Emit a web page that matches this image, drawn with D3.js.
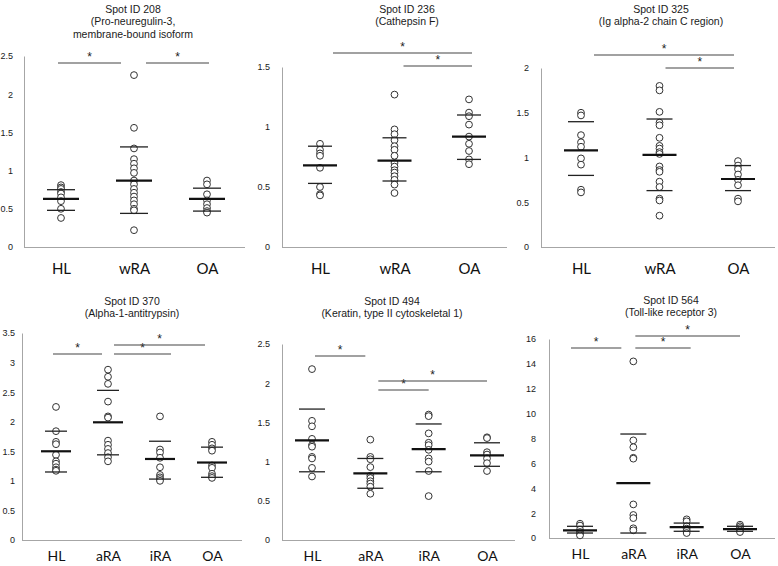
<!DOCTYPE html>
<html><head><meta charset="utf-8">
<script src="https://cdn.jsdelivr.net/npm/d3@7"></script>
<style>body{margin:0;background:#fff} svg{display:block}</style>
</head><body>
<svg id="chart" width="778" height="566"></svg>
<script>
// ---------------- DATA ----------------
const cats3 = ["HL", "wRA", "OA"];
const cats4 = ["HL", "aRA", "iRA", "OA"];

// Spot ID 208
const title208 = ["Spot ID 208", "(Pro-neuregulin-3,", "membrane-bound isoform"];
const ticks208 = [0, 0.5, 1, 1.5, 2, 2.5];
const values208 = [
  [0.81, 0.78, 0.76, 0.72, 0.70, 0.65, 0.60, 0.50, 0.38],
  [2.25, 1.56, 1.29, 1.15, 1.09, 1.03, 0.97, 0.87, 0.82, 0.76, 0.71, 0.66, 0.61, 0.56, 0.50, 0.48, 0.22],
  [0.87, 0.82, 0.69, 0.61, 0.56, 0.51, 0.47, 0.45]
];
const mean208 = [0.63, 0.87, 0.63];
const sdHi208 = [0.75, 1.31, 0.77];
const sdLo208 = [0.48, 0.44, 0.47];
const sig208 = [[0, 1], [1, 2]];

// Spot ID 236
const title236 = ["Spot ID 236", "(Cathepsin F)"];
const ticks236 = [0, 0.5, 1, 1.5];
const values236 = [
  [0.86, 0.81, 0.78, 0.76, 0.66, 0.50, 0.44, 0.43],
  [1.27, 0.98, 0.94, 0.89, 0.84, 0.81, 0.76, 0.70, 0.67, 0.64, 0.62, 0.59, 0.56, 0.52, 0.45],
  [1.23, 1.12, 1.09, 1.02, 0.92, 0.86, 0.80, 0.73, 0.69]
];
const mean236 = [0.68, 0.72, 0.92];
const sdHi236 = [0.84, 0.91, 1.10];
const sdLo236 = [0.53, 0.55, 0.73];
const sig236 = [[0, 2], [1, 2]];

// Spot ID 325
const title325 = ["Spot ID 325", "(Ig alpha-2 chain C region)"];
const ticks325 = [0, 0.5, 1, 1.5, 2];
const values325 = [
  [1.50, 1.47, 1.25, 1.17, 1.12, 0.99, 0.92, 0.64, 0.61],
  [1.80, 1.75, 1.51, 1.39, 1.36, 1.22, 1.13, 1.10, 1.06, 1.04, 0.90, 0.86, 0.84, 0.73, 0.67, 0.54, 0.52, 0.35],
  [0.96, 0.91, 0.87, 0.81, 0.75, 0.69, 0.54, 0.51]
];
const mean325 = [1.08, 1.03, 0.76];
const sdHi325 = [1.40, 1.43, 0.91];
const sdLo325 = [0.80, 0.63, 0.63];
const sig325 = [[0, 2], [1, 2]];

// Spot ID 370
const title370 = ["Spot ID 370", "(Alpha-1-antitrypsin)"];
const ticks370 = [0, 0.5, 1, 1.5, 2, 2.5, 3, 3.5];
const values370 = [
  [2.25, 1.84, 1.66, 1.62, 1.44, 1.33, 1.29, 1.23, 1.19, 1.17],
  [2.88, 2.76, 2.64, 2.34, 2.09, 2.07, 1.68, 1.61, 1.54, 1.47, 1.40, 1.33],
  [2.09, 1.53, 1.48, 1.39, 1.23, 1.10, 1.06, 1.03, 1.00],
  [1.66, 1.61, 1.55, 1.51, 1.26, 1.22, 1.12, 1.08, 1.05]
];
const mean370 = [1.50, 1.99, 1.37, 1.31];
const sdHi370 = [1.84, 2.53, 1.67, 1.57];
const sdLo370 = [1.15, 1.44, 1.03, 1.06];
const sig370 = [[0, 1], [1, 2], [1, 3]];

// Spot ID 494
const title494 = ["Spot ID 494", "(Keratin, type II  cytoskeletal 1)"];
const ticks494 = [0, 0.5, 1, 1.5, 2, 2.5];
const values494 = [
  [2.18, 1.52, 1.45, 1.29, 1.21, 1.19, 1.06, 1.04, 0.92, 0.81],
  [1.28, 1.06, 1.03, 0.93, 0.82, 0.79, 0.75, 0.72, 0.68, 0.59],
  [1.60, 1.58, 1.36, 1.24, 1.21, 1.15, 1.04, 1.00, 0.88, 0.56],
  [1.31, 1.30, 1.12, 1.09, 1.04, 0.98, 0.88]
];
const mean494 = [1.27, 0.85, 1.16, 1.08];
const sdHi494 = [1.67, 1.04, 1.48, 1.24];
const sdLo494 = [0.87, 0.66, 0.87, 0.94];
const sig494 = [[0, 1], [1, 2], [1, 3]];

// Spot ID 564
const title564 = ["Spot ID 564", "(Toll-like receptor 3)"];
const ticks564 = [0, 2, 4, 6, 8, 10, 12, 14, 16];
const values564 = [
  [1.15, 1.0, 0.67, 0.48, 0.32, 0.21],
  [14.2, 7.85, 7.3, 6.45, 6.38, 2.7, 1.85, 1.6, 0.78, 0.62],
  [1.5, 1.34, 0.94, 0.75, 0.59, 0.40],
  [1.07, 0.94, 0.80, 0.62, 0.48]
];
const mean564 = [0.62, 4.42, 0.88, 0.72];
const sdHi564 = [0.94, 8.36, 1.20, 0.94];
const sdLo564 = [0.40, 0.40, 0.54, 0.54];
const sig564 = [[0, 1], [1, 2], [1, 3]];

// ---------------- LAYOUT ----------------
const panels = [
  {title: title208, cats: cats3, ticks: ticks208, values: values208, mean: mean208, hi: sdHi208, lo: sdLo208, sig: sig208,
   ax: 24, axEnd: 245, yBot: 247, yTop: 56, catRange: [61, 207], tx: 133, ty: 9, pad: 16, fs: 15, tp: 11,
   sigY: [63, 63], sigDx: [[-3, -13], [12, 2]], mh: 18, sh: 14},
  {title: title236, cats: cats3, ticks: ticks236, values: values236, mean: mean236, hi: sdHi236, lo: sdLo236, sig: sig236,
   ax: 282, axEnd: 507, yBot: 247, yTop: 67, catRange: [320, 469], tx: 407, ty: 9, pad: 16, fs: 15, tp: 12,
   sigY: [53, 66], sigDx: [[13, 3], [9, 3]], mh: 17, sh: 12},
  {title: title325, cats: cats3, ticks: ticks325, values: values325, mean: mean325, hi: sdHi325, lo: sdLo325, sig: sig325,
   ax: 541, axEnd: 775, yBot: 247, yTop: 68, catRange: [581, 738], tx: 661, ty: 9, pad: 16, fs: 15, tp: 12,
   sigY: [55, 68], sigDx: [[13, -4], [6, -4]], mh: 17, sh: 13},
  {title: title370, cats: cats4, ticks: ticks370, values: values370, mean: mean370, hi: sdHi370, lo: sdLo370, sig: sig370,
   ax: 22, axEnd: 242, yBot: 540, yTop: 333, catRange: [56, 212], tx: 132, ty: 301, pad: 11, fs: 14, tp: 7,
   sigY: [354, 354, 345], sigDx: [[-3, -6], [6, 11], [6, -7]], mh: 15, sh: 11},
  {title: title494, cats: cats4, ticks: ticks494, values: values494, mean: mean494, hi: sdHi494, lo: sdLo494, sig: sig494,
   ax: 282, axEnd: 515, yBot: 540, yTop: 344, catRange: [312, 487], tx: 392, ty: 301, pad: 11, fs: 14, tp: 12,
   sigY: [356, 390, 381], sigDx: [[3, -5], [8, 0], [8, 0]], mh: 17, sh: 13},
  {title: title564, cats: cats4, ticks: ticks564, values: values564, mean: mean564, hi: sdHi564, lo: sdLo564, sig: sig564,
   ax: 549, axEnd: 775, yBot: 538, yTop: 339, catRange: [580, 740], tx: 671, ty: 300, pad: 11, fs: 14, tp: 13,
   sigY: [348, 348, 336], sigDx: [[-9, -12], [2, 4], [2, 0]], mh: 17, sh: 13}
];

const svg = d3.select("#chart");
const AX = "#a6a6a6";

panels.forEach(p => {
  const g = svg.append("g");
  const x = d3.scalePoint().domain(p.cats).range(p.catRange);
  const y = d3.scaleLinear().domain([0, d3.max(p.ticks)]).range([p.yBot, p.yTop]);

  // title
  g.append("text").attr("x", p.tx).attr("y", p.ty)
    .attr("text-anchor", "middle")
    .style("font-family", "'Liberation Sans', Arial, sans-serif").style("font-size", "10.5px").style("fill", "#1a1a1a")
    .selectAll("tspan").data(p.title).join("tspan")
    .attr("x", p.tx).attr("dy", (d, i) => i === 0 ? "0.35em" : "1.2em").text(d => d);

  // y axis
  const yAxis = d3.axisLeft(y).tickValues(p.ticks).tickSize(0).tickPadding(p.tp)
    .tickFormat(d => d3.format("")(d));
  const ya = g.append("g").attr("transform", `translate(${p.ax},0)`).call(yAxis);
  ya.select(".domain").attr("stroke", AX).attr("stroke-width", 1);
  ya.selectAll("text").style("font-family", "'Liberation Sans', Arial, sans-serif").style("font-size", "9px").style("fill", "#1a1a1a");

  // x axis
  const xa = g.append("g").attr("transform", `translate(0,${p.yBot})`)
    .call(d3.axisBottom(x).tickSize(0).tickPadding(p.pad));
  xa.select(".domain").attr("d", `M${p.ax},0.5H${p.axEnd}`).attr("stroke", AX);
  xa.selectAll("text").style("font-family", "Lato, 'Open Sans', sans-serif").style("font-size", p.fs + "px").style("fill", "#111");

  // points
  p.values.forEach((vals, i) => {
    g.selectAll(null).data(vals).join("circle")
      .attr("cx", x(p.cats[i])).attr("cy", d => y(d)).attr("r", 3.4)
      .attr("fill", "#fff").attr("stroke", "#333").attr("stroke-width", 1);
  });

  // mean lines
  g.selectAll(null).data(p.mean).join("line")
    .attr("x1", (d, i) => x(p.cats[i]) - p.mh).attr("x2", (d, i) => x(p.cats[i]) + p.mh)
    .attr("y1", d => y(d)).attr("y2", d => y(d))
    .attr("stroke", "#111").attr("stroke-width", 2.2);
  // SD lines
  [p.hi, p.lo].forEach(arr => {
    g.selectAll(null).data(arr).join("line")
      .attr("x1", (d, i) => x(p.cats[i]) - p.sh).attr("x2", (d, i) => x(p.cats[i]) + p.sh)
      .attr("y1", d => y(d)).attr("y2", d => y(d))
      .attr("stroke", "#222").attr("stroke-width", 1.3);
  });

  // significance bars
  p.sig.forEach((s, k) => {
    const x1 = x(p.cats[s[0]]) + p.sigDx[k][0];
    const x2 = x(p.cats[s[1]]) + p.sigDx[k][1];
    const yy = p.sigY[k];
    g.append("line").attr("x1", x1).attr("x2", x2).attr("y1", yy).attr("y2", yy)
      .attr("stroke", "#444").attr("stroke-width", 1.1);
    g.append("text").attr("x", (x1 + x2) / 2).attr("y", yy - 2)
      .attr("text-anchor", "middle")
      .style("font-family", "'Liberation Sans', Arial, sans-serif").style("font-size", "12px").style("fill", "#222")
      .text("*");
  });
});
</script>
</body></html>
